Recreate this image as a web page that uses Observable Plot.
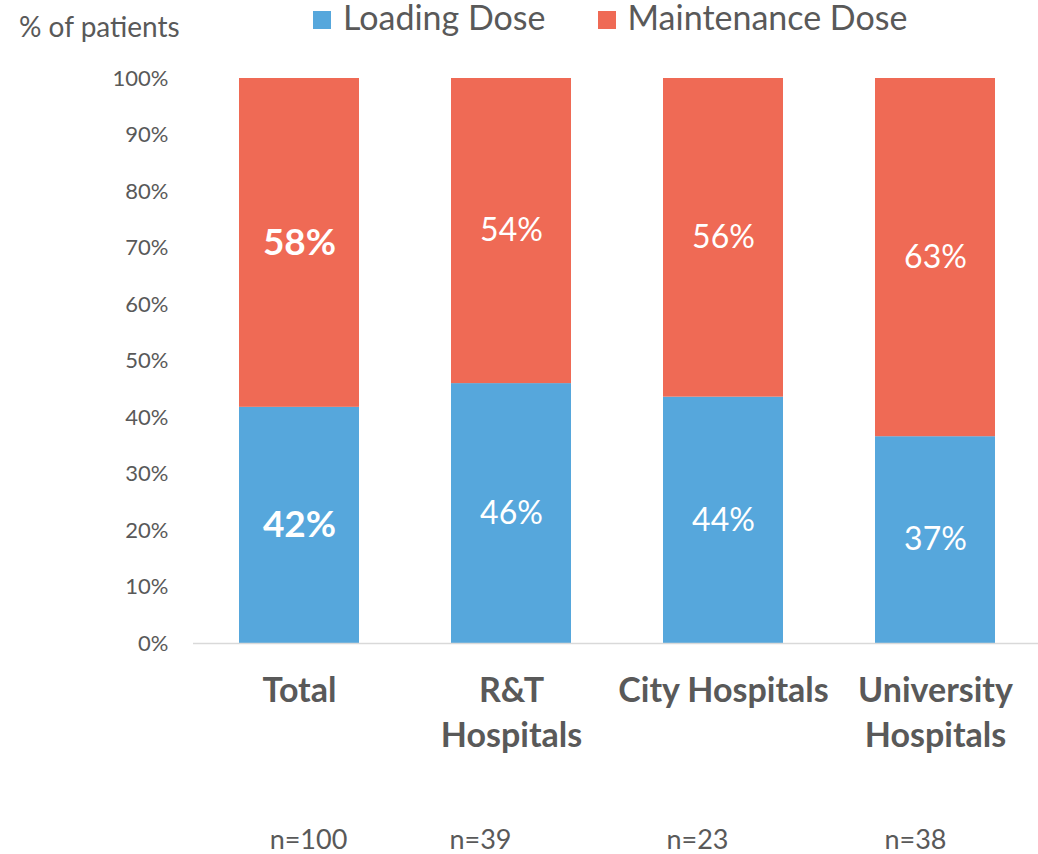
<!DOCTYPE html>
<html>
<head>
<meta charset="utf-8">
<script src="https://cdn.jsdelivr.net/npm/d3@7"></script>
<script src="https://cdn.jsdelivr.net/npm/@observablehq/plot@0.6"></script>
<style>
  html, body { margin: 0; padding: 0; background: #fff; }
  #wrap { position: relative; width: 1038px; height: 854px; font-family: Lato, "Open Sans", sans-serif; color: #595959; }
  #chart { position: absolute; left: 0; top: 0; }
  .ytitle { position: absolute; left: 19px; top: 10px; font-size: 28px; line-height: 32px; white-space: nowrap; }
  .legend { position: absolute; top: 3px; left: 313px; font-size: 34px; line-height: 40px; white-space: nowrap; display: flex; align-items: center; }
  .legend .sw { display: inline-block; width: 18px; height: 18px; margin-right: 12px; }
  .legend .item { display: flex; align-items: center; margin-right: 52px; }
  .legend .lbl { display: inline-block; margin-top: -6px; }
</style>
</head>
<body>
<div id="wrap">
  <div id="chart"></div>
  <div class="ytitle">% of patients</div>
  <div class="legend" id="legend"></div>
</div>
<script>
const categories = ["Total", "R&T Hospitals", "City Hospitals", "University Hospitals"];
const categoryLabels = ["Total", "R&T\nHospitals", "City Hospitals", "University\nHospitals"];
const series = ["Loading Dose", "Maintenance Dose"];
const loadingDose = [41.8, 46.0, 43.6, 36.6];
const maintenanceDose = [58.2, 54.0, 56.4, 63.4];
const loadingLabels = ["42%", "46%", "44%", "37%"];
const maintenanceLabels = ["58%", "54%", "56%", "63%"];
const sampleSizes = ["n=100", "n=39", "n=23", "n=38"];
const yTicks = [0, 10, 20, 30, 40, 50, 60, 70, 80, 90, 100];

const colors = ["#56A7DC", "#EF6A55"];
const textColor = "#595959";

const rows = [];
categories.forEach((c, i) => {
  rows.push({category: c, series: series[0], value: loadingDose[i], label: loadingLabels[i], idx: i});
  rows.push({category: c, series: series[1], value: maintenanceDose[i], label: maintenanceLabels[i], idx: i});
});
const nRows = categories.map((c, i) => ({category: c, text: sampleSizes[i]}));
const nOffsets = [9, -31, -26, -20];

const stackOpts = {x: "category", y: "value", z: "series", order: series, text: "label"};

const chart = Plot.plot({
  width: 1038,
  height: 854,
  marginTop: 78,
  marginBottom: 211,
  marginLeft: 193,
  marginRight: 0,
  style: {fontFamily: "Lato, 'Open Sans', sans-serif", color: textColor, background: "#fff", overflow: "visible"},
  x: {domain: categories, range: [193, 1041], paddingInner: 0.434, paddingOuter: 0.217, label: null},
  y: {domain: [0, 100], label: null},
  color: {domain: series, range: colors},
  marks: [
    Plot.axisY({ticks: yTicks, tickSize: 0, tickPadding: 25, tickFormat: d => d + "%", fontSize: 22, fill: textColor}),
    Plot.axisX({tickSize: 0, tickPadding: 27, fontSize: 34, fontWeight: "bold", lineHeight: 1.32, fill: textColor,
      tickFormat: d => categoryLabels[categories.indexOf(d)]}),
    Plot.barY(rows, Plot.stackY({x: "category", y: "value", fill: "series", order: series})),
    Plot.ruleY([0], {stroke: "#d9d9d9", strokeWidth: 1.5}),
    Plot.text(rows, Plot.stackY({...stackOpts, filter: d => d.idx === 0, fill: "white", fontSize: 37, fontWeight: "bold"})),
    Plot.text(rows, Plot.stackY({...stackOpts, filter: d => d.idx !== 0, fill: "white", fontSize: 32})),
    ...nRows.map((d, i) => Plot.text([d], {x: "category", text: "text", frameAnchor: "bottom", dy: 205, dx: nOffsets[i], fontSize: 27, fill: textColor}))
  ]
});
document.getElementById("chart").appendChild(chart);

const legend = document.getElementById("legend");
series.forEach((s, i) => {
  const item = document.createElement("div");
  item.className = "item";
  const sw = document.createElement("span");
  sw.className = "sw";
  sw.style.background = colors[i];
  const t = document.createElement("span");
  t.className = "lbl";
  t.textContent = s;
  item.appendChild(sw);
  item.appendChild(t);
  legend.appendChild(item);
});
</script>
</body>
</html>
